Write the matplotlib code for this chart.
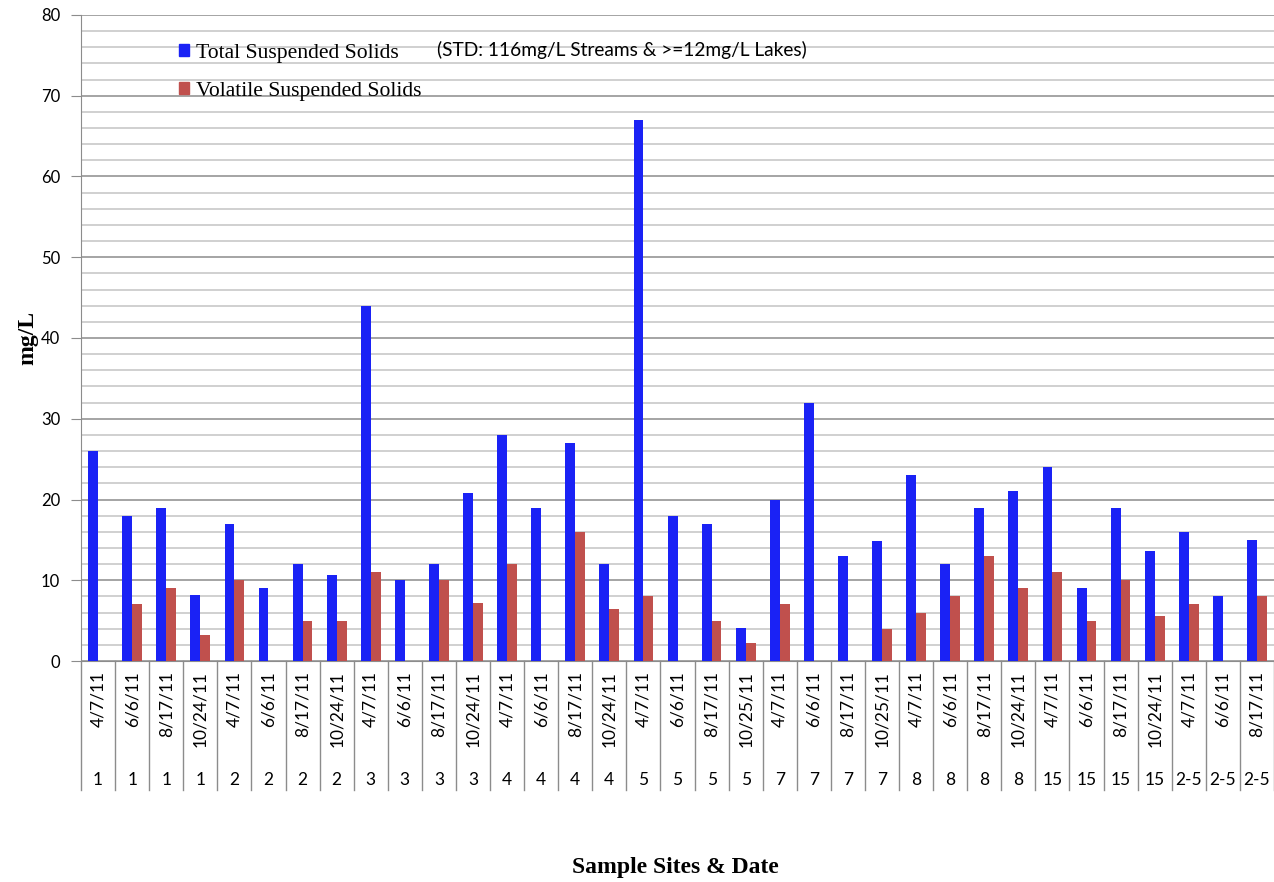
import matplotlib
matplotlib.use("Agg")
import matplotlib.pyplot as plt
import matplotlib.transforms as mtransforms
from matplotlib.patches import Patch
from matplotlib.ticker import MultipleLocator
import numpy as np

# data
dates = ["4/7/11", "6/6/11", "8/17/11", "10/24/11",
         "4/7/11", "6/6/11", "8/17/11", "10/24/11",
         "4/7/11", "6/6/11", "8/17/11", "10/24/11",
         "4/7/11", "6/6/11", "8/17/11", "10/24/11",
         "4/7/11", "6/6/11", "8/17/11", "10/25/11",
         "4/7/11", "6/6/11", "8/17/11", "10/25/11",
         "4/7/11", "6/6/11", "8/17/11", "10/24/11",
         "4/7/11", "6/6/11", "8/17/11", "10/24/11",
         "4/7/11", "6/6/11", "8/17/11"]
sites = ["1", "1", "1", "1", "2", "2", "2", "2", "3", "3", "3", "3",
         "4", "4", "4", "4", "5", "5", "5", "5", "7", "7", "7", "7",
         "8", "8", "8", "8", "15", "15", "15", "15", "2-5", "2-5", "2-5"]
tss = [26, 18, 19, 8.2, 17, 9, 12, 10.7, 44, 10, 12, 20.8,
       28, 19, 27, 12, 67, 18, 17, 4.1, 20, 32, 13, 14.8,
       23, 12, 19, 21, 24, 9, 19, 13.6, 16, 8, 15]
vss = [None, 7, 9, 3.2, 10, None, 5, 5, 11, None, 10, 7.2,
       12, None, 16, 6.4, 8, None, 5, 2.2, 7, None, None, 4,
       6, 8, 13, 9, 11, 5, 10, 5.6, 7, None, 8]

blue = "#1a22f5"
red = "#c0504d"
serif = ["Liberation Serif", "DejaVu Serif"]
sans = ["Lato", "DejaVu Sans"]

fig = plt.figure(figsize=(12.74, 8.82), dpi=100)
ax = fig.add_axes([81 / 1274, 1 - 661 / 882, 1 - 81 / 1274, 646 / 882])

x = np.arange(len(tss))
w = 0.29
vss_arr = np.array([np.nan if v is None else v for v in vss], dtype=float)
ax.bar(x - w / 2, tss, w, color=blue, zorder=3)
ax.bar(x + w / 2, vss_arr, w, color=red, zorder=3)

ax.set_xlim(-0.5, len(tss) - 0.5)
ax.set_ylim(0, 80)
ax.yaxis.set_major_locator(MultipleLocator(10))
ax.yaxis.set_minor_locator(MultipleLocator(2))
ax.grid(which="major", axis="y", color="#8c8c8c", lw=1.1, zorder=0)
ax.grid(which="minor", axis="y", color="#c4c4c4", lw=1.1, zorder=0)
ax.tick_params(axis="y", which="major", length=7, color="#8c8c8c",
               labelsize=12, pad=8)
ax.tick_params(axis="y", which="minor", length=0)
for lab in ax.get_yticklabels():
    lab.set_family(sans)
ax.set_xticks([])
for s in ("top", "right"):
    ax.spines[s].set_visible(False)
ax.spines["left"].set_color("#8c8c8c")
ax.spines["bottom"].set_color("#8c8c8c")

# two-row category labels with separators
tr = mtransforms.blended_transform_factory(ax.transData, ax.transAxes)
for i in range(len(tss) + 1):
    ax.plot([i - 0.5, i - 0.5], [0, -0.2], transform=tr, color="#8c8c8c",
            lw=1, clip_on=False)
for i, (d, s) in enumerate(zip(dates, sites)):
    ax.text(i, -0.016, d, transform=tr, rotation=90, ha="center", va="top",
            fontsize=12.5, family=sans)
    ax.text(i, -0.184, s, transform=tr, ha="center", va="center",
            fontsize=12.5, family=sans)

fig.text(28 / 1274, 1 - 338 / 882, "mg/L", rotation=90, ha="center",
         va="center", fontsize=17, fontweight="bold", family=serif)
fig.text(675 / 1274, 1 - 867 / 882, "Sample Sites & Date", ha="center",
         va="center", fontsize=17, fontweight="bold", family=serif)

handles = [Patch(color=blue, label="Total Suspended Solids"),
           Patch(color=red, label="Volatile Suspended Solids")]
ax.legend(handles=handles, loc="upper left", frameon=False,
          bbox_to_anchor=(179 / 1274, 1 - 44 / 882),
          bbox_transform=fig.transFigure,
          prop={"family": serif, "size": 15.6}, handlelength=0.45,
          handleheight=0.45, handletextpad=0.35, labelspacing=0.86,
          borderaxespad=0, borderpad=0)
fig.text(437 / 1274, 1 - 50 / 882, "(STD: 116mg/L Streams & >=12mg/L Lakes)",
         ha="left", va="center", fontsize=13.8, family=sans)

fig.savefig("out.png", dpi=100)
